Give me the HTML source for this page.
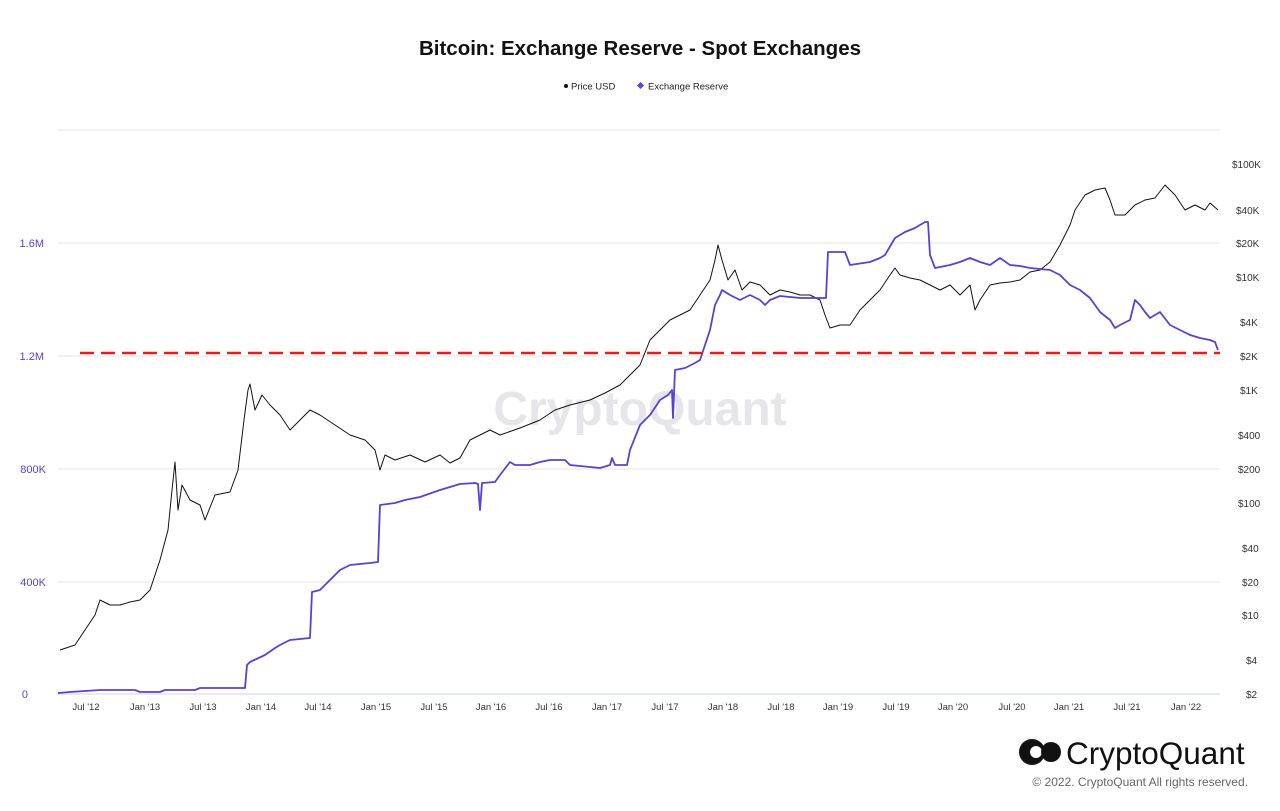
<!DOCTYPE html>
<html><head><meta charset="utf-8"><style>
body{margin:0;background:#fff;font-family:"Liberation Sans",sans-serif;}
</style></head><body>
<svg width="1280" height="806" xmlns="http://www.w3.org/2000/svg" font-family="Liberation Sans, sans-serif">
<rect width="1280" height="806" fill="#fff"/>
<text x="640" y="55" text-anchor="middle" font-size="20.5" font-weight="bold" fill="#111">Bitcoin: Exchange Reserve - Spot Exchanges</text>
<circle cx="566" cy="86" r="2" fill="#111"/><text x="571" y="89.5" font-size="9.5" fill="#222">Price USD</text>
<rect x="638" y="83" width="5" height="5" fill="#5b3fd6" transform="rotate(45 640.5 85.5)"/><text x="648" y="89.5" font-size="9.5" fill="#222">Exchange Reserve</text>
<g stroke="#e6e6e6" stroke-width="1">
<line x1="58" y1="130" x2="1220" y2="130"/><line x1="58" y1="243" x2="1220" y2="243"/><line x1="58" y1="356" x2="1220" y2="356"/><line x1="58" y1="469" x2="1220" y2="469"/><line x1="58" y1="582" x2="1220" y2="582"/>
</g>
<line x1="58" y1="694" x2="1220" y2="694" stroke="#ccd6eb"/>
<g font-size="11" fill="#5b3fd6" text-anchor="end">
<text x="44" y="247">1.6M</text><text x="44" y="360">1.2M</text><text x="46" y="473">800K</text><text x="46" y="586">400K</text><text x="28" y="698">0</text>
</g>
<g font-size="10" fill="#333" text-anchor="start">
<text x="1232" y="168">$100K</text><text x="1236" y="214">$40K</text><text x="1236" y="247">$20K</text><text x="1236" y="281">$10K</text><text x="1240" y="326">$4K</text><text x="1240" y="360">$2K</text><text x="1240" y="394">$1K</text><text x="1238" y="439">$400</text><text x="1238" y="473">$200</text><text x="1238" y="507">$100</text><text x="1242" y="552">$40</text><text x="1242" y="586">$20</text><text x="1242" y="619">$10</text><text x="1246" y="664">$4</text><text x="1246" y="698">$2</text>
</g>
<g font-size="9.5" fill="#333" text-anchor="middle">
<text x="86" y="710">Jul '12</text><text x="145" y="710">Jan '13</text><text x="203" y="710">Jul '13</text><text x="261" y="710">Jan '14</text><text x="318" y="710">Jul '14</text><text x="376" y="710">Jan '15</text><text x="434" y="710">Jul '15</text><text x="491" y="710">Jan '16</text><text x="549" y="710">Jul '16</text><text x="607" y="710">Jan '17</text><text x="665" y="710">Jul '17</text><text x="723" y="710">Jan '18</text><text x="781" y="710">Jul '18</text><text x="838" y="710">Jan '19</text><text x="896" y="710">Jul '19</text><text x="953" y="710">Jan '20</text><text x="1012" y="710">Jul '20</text><text x="1069" y="710">Jan '21</text><text x="1127" y="710">Jul '21</text><text x="1186" y="710">Jan '22</text>
</g>
<text x="640" y="425" text-anchor="middle" font-size="48" fill="#e6e6ea" font-weight="bold">CryptoQuant</text>
<polyline fill="none" stroke="#111" stroke-width="1" stroke-linejoin="round" points="60,650 75,645 85,630 95,615 100,600 110,605 120,605 130,602 140,600 150,590 160,560 168,530 172,490 175,462 178,510 182,485 190,500 200,505 205,520 215,495 230,492 238,470 244,420 248,390 250,384 255,410 262,395 270,405 280,415 290,430 300,420 310,410 320,415 335,425 350,435 365,440 375,450 380,470 385,455 395,460 410,455 425,462 440,455 450,463 460,458 470,440 480,435 490,430 500,435 520,428 540,420 555,410 570,405 590,400 605,393 620,385 630,375 640,365 650,340 660,330 670,320 680,315 690,310 700,295 710,280 715,260 718,245 722,260 728,280 735,270 742,290 750,282 760,285 770,295 780,290 790,292 800,295 810,295 820,300 825,315 830,328 840,325 850,325 860,310 870,300 880,290 890,275 895,268 900,275 910,278 920,280 930,285 940,290 950,285 960,295 970,285 975,310 980,300 990,285 1000,283 1010,282 1020,280 1030,272 1040,270 1050,262 1060,245 1070,225 1075,210 1085,195 1095,190 1105,188 1110,200 1115,215 1125,215 1135,205 1145,200 1155,198 1165,185 1175,195 1185,210 1195,205 1205,210 1210,203 1218,210"/>
<polyline fill="none" stroke="#5b3fd6" stroke-width="1.8" stroke-linejoin="round" points="58,693 70,692 100,690 135,690 140,692 160,692 165,690 195,690 200,688 245,688 247,665 250,662 265,655 275,648 280,645 290,640 310,638 312,592 320,590 330,580 340,570 350,565 370,563 378,562 380,505 395,503 405,500 420,497 440,490 460,484 475,483 478,484 480,510 482,483 495,482 500,475 510,462 515,465 530,465 540,462 550,460 565,460 570,465 590,467 600,468 610,465 612,458 615,465 627,465 630,450 640,425 650,415 660,400 668,395 672,390 673,418 675,370 685,368 695,363 700,360 705,345 710,330 715,305 720,295 722,290 730,295 740,300 750,295 760,300 765,305 770,300 780,296 800,298 820,298 826,298 828,252 845,252 850,265 870,262 880,258 885,255 895,238 905,232 915,228 925,222 928,222 930,255 935,268 950,265 960,262 970,258 980,262 990,265 1000,258 1010,265 1020,266 1030,268 1050,270 1060,275 1070,285 1080,290 1090,298 1100,312 1110,320 1115,328 1120,325 1130,320 1135,300 1140,305 1145,312 1150,318 1160,312 1170,325 1180,330 1190,335 1200,338 1210,340 1215,342 1218,350"/>
<line x1="80" y1="353" x2="1220" y2="353" stroke="#e0201e" stroke-width="2.5" stroke-dasharray="14,7"/>
<circle cx="1032" cy="752" r="13" fill="#111"/><circle cx="1036" cy="752" r="6" fill="#fff"/>
<circle cx="1051" cy="752" r="10" fill="#111"/>
<text x="1066" y="764" font-size="31.5" fill="#111">CryptoQuant</text>
<text x="1248" y="786" text-anchor="end" font-size="12" fill="#666">© 2022. CryptoQuant All rights reserved.</text>
</svg>
</body></html>
